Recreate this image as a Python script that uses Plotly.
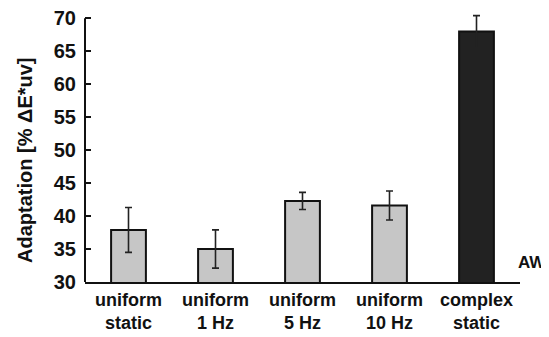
import plotly.graph_objects as go

categories = ["uniform<br>static", "uniform<br>1 Hz", "uniform<br>5 Hz", "uniform<br>10 Hz", "complex<br>static"]
values = [37.9, 35.0, 42.3, 41.6, 68.0]
errors = [3.4, 2.9, 1.3, 2.2, 2.4]
colors = ["#c6c6c6", "#c6c6c6", "#c6c6c6", "#c6c6c6", "#222222"]
y_ticks = [30, 35, 40, 45, 50, 55, 60, 65, 70]
y_title = "Adaptation [% \u0394E*uv]"

FONT = "Liberation Sans"
Y_MIN, Y_MAX, Y_TOP = 30, 70, 70.8

fig = go.Figure()
fig.add_trace(go.Bar(
    x=categories, y=values, width=0.40,
    marker=dict(color=colors, line=dict(color="#111111", width=2)),
    error_y=dict(type="data", array=errors, visible=True, color="#222222", thickness=1.6, width=3.5),
    cliponaxis=False,
))

fig.add_shape(type="line", xref="paper", yref="y", x0=0, x1=0, y0=Y_MIN, y1=Y_MAX,
              line=dict(color="#111111", width=2))

fig.update_layout(
    width=541, height=329,
    margin=dict(l=77, r=29, t=5, b=55),
    paper_bgcolor="white", plot_bgcolor="white",
    showlegend=False,
    font=dict(family=FONT, color="#111111"),
    xaxis=dict(
        range=[-0.5, 4.5], showline=True, linecolor="#111111", linewidth=2,
        ticks="", showgrid=False, zeroline=False, automargin=False,
        tickfont=dict(family=FONT, size=18, weight="bold", color="#111111"),
    ),
    yaxis=dict(
        range=[Y_MIN, Y_TOP], tickvals=y_ticks, showline=False,
        ticks="inside", ticklen=6, tickwidth=1.5, tickcolor="#111111",
        showgrid=False, zeroline=False, ticklabelstandoff=8, automargin=False,
        ticklabeloverflow="allow",
        tickfont=dict(family=FONT, size=20, weight="bold", color="#111111"),
    ),
    annotations=[
        dict(
            text="AW", x=1.0, xref="paper", xanchor="left", xshift=-4,
            y=32.9, yref="y", yanchor="middle", showarrow=False,
            font=dict(family=FONT, size=17, weight="bold", color="#111111"),
        ),
        dict(
            text=y_title, textangle=-90, x=-0.138, xref="paper", xanchor="center",
            y=0.4535, yref="paper", yanchor="middle", showarrow=False,
            font=dict(family=FONT, size=20, weight="bold", color="#111111"),
        ),
    ],
)

fig.write_html("out.html")
